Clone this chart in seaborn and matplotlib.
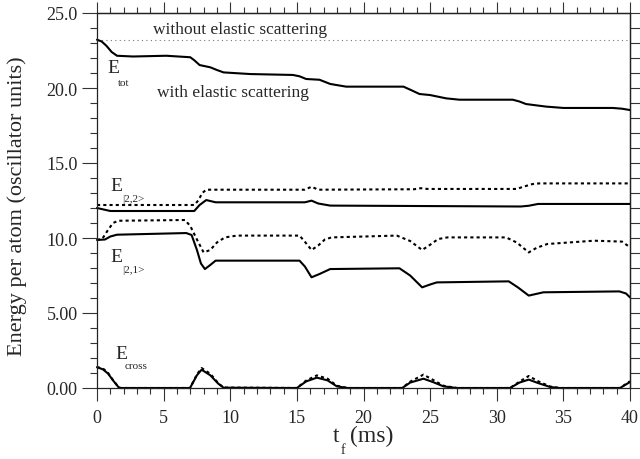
import matplotlib
matplotlib.use("Agg")
import matplotlib.pyplot as plt
import seaborn as sns
import numpy as np
import pandas as pd
from matplotlib.ticker import MultipleLocator, FixedLocator

# ---------------- data ----------------
t_tot = [0, 0.35, 0.7, 1.1, 1.5, 2.7, 5.2, 7.0, 7.3, 7.7, 8.5, 9.0, 9.5, 11.5, 14.7, 15.2, 15.7,
         16.7, 17.5, 18.7, 23.0, 23.6, 24.2, 25.0, 26.2, 27.2, 31.2, 31.7, 32.2, 33.7, 35.0, 38.7, 39.4, 40]
e_tot = [23.22, 23.1, 22.82, 22.4, 22.15, 22.1, 22.15, 22.05, 21.85, 21.53, 21.38, 21.2, 21.04, 20.93, 20.87,
         20.78, 20.6, 20.55, 20.27, 20.09, 20.09, 19.85, 19.6, 19.53, 19.31, 19.22, 19.22, 19.1, 18.93, 18.76,
         18.67, 18.67, 18.62, 18.53]

t_ref = [0, 40]
e_ref = [23.2, 23.2]

t_22d = [0, 7.3, 7.6, 7.9, 8.2, 15.6, 16.1, 16.6, 23.8, 24.3, 24.8, 31.5, 32.0, 32.7, 33.2, 40]
e_22d = [12.2, 12.2, 12.5, 13.0, 13.22, 13.22, 13.42, 13.22, 13.25, 13.32, 13.27, 13.27, 13.42, 13.6, 13.64, 13.64]

t_22s = [0, 0.5, 1.0, 7.3, 7.7, 8.2, 8.9, 15.6, 16.1, 16.6, 17.5, 31.8, 32.4, 33.1, 40]
e_22s = [12.0, 11.9, 11.8, 11.8, 12.2, 12.53, 12.38, 12.38, 12.49, 12.3, 12.16, 12.1, 12.15, 12.27, 12.27]

t_21d = [0, 0.4, 0.8, 1.2, 1.6, 6.6, 7.0, 7.5, 8.0, 8.5, 9.0, 9.6, 10.5, 15.2, 15.6, 16.1, 16.6, 17.1,
         17.6, 22.5, 23.5, 24.4, 25.0, 25.6, 26.3, 30.7, 31.5, 32.4, 33.0, 33.8, 37.3, 39.4, 40]
e_21d = [9.87, 9.95, 10.5, 11.0, 11.15, 11.2, 10.8, 9.9, 9.04, 9.2, 9.7, 10.04, 10.16, 10.16, 9.75, 9.2,
         9.5, 9.9, 10.04, 10.16, 9.8, 9.2, 9.55, 9.93, 10.04, 10.04, 9.7, 9.04, 9.35, 9.6, 9.82, 9.76, 9.38]

t_21s = [0, 0.6, 1.0, 1.5, 6.7, 7.1, 7.5, 7.8, 8.1, 8.5, 8.9, 15.2, 15.6, 16.1, 16.7, 17.5, 22.7, 23.5,
         24.4, 25.0, 25.5, 30.9, 31.6, 32.4, 33.5, 39.2, 39.7, 40]
e_21s = [9.87, 9.9, 10.1, 10.22, 10.33, 10.2, 9.2, 8.3, 7.93, 8.2, 8.49, 8.49, 8.1, 7.38, 7.6, 7.93, 7.98,
         7.5, 6.71, 6.9, 7.04, 7.11, 6.7, 6.16, 6.38, 6.44, 6.3, 6.04]

t_cr = [0, 0.45, 0.83, 1.2, 1.6, 1.75, 6.98, 7.5, 7.85, 8.5, 9.1, 9.5, 15.0, 15.7, 16.5, 17.3, 18.0, 18.8,
        22.9, 23.5, 24.5, 25.2, 26.0, 27.0, 31.0, 31.7, 32.4, 33.1, 34.0, 34.7, 39.25, 40]
e_crs = [1.39, 1.24, 0.96, 0.51, 0.07, 0, 0, 0.85, 1.22, 0.85, 0.29, 0.02, 0, 0.44, 0.69, 0.51, 0.11, 0,
         0, 0.36, 0.62, 0.4, 0.11, 0, 0, 0.36, 0.56, 0.33, 0.07, 0, 0, 0.4]
e_crd = [1.39, 1.3, 1.0, 0.53, 0.08, 0, 0, 0.9, 1.33, 0.95, 0.32, 0.03, 0, 0.5, 0.84, 0.62, 0.15, 0,
         0, 0.42, 0.89, 0.55, 0.15, 0, 0, 0.42, 0.8, 0.45, 0.1, 0, 0, 0.45]

y_ticks = [0, 5, 10, 15, 20, 25]
y_tick_labels = ["0.00", "5.00", "10.0", "15.0", "20.0", "25.0"]
x_ticks = [0, 5, 10, 15, 20, 25, 30, 35, 40]

# ---------------- style ----------------
sns.set_style("ticks")
plt.rcParams['font.family'] = ['Liberation Serif', 'DejaVu Serif']
plt.rcParams['mathtext.fontset'] = 'stix'

fig = plt.figure(figsize=(6.4, 4.6), dpi=100)
ax = fig.add_axes([97/640, 1 - 389/460, (630-97)/640, (389-14)/460])

solid = dict(color='black', lw=1.5, estimator=None, sort=False, ax=ax, legend=False)
dotted = dict(color='black', lw=1.5, estimator=None, sort=False, ax=ax, legend=False)

sns.lineplot(x=t_ref, y=e_ref, color='#777777', lw=0.8, linestyle=(0, (1, 3)),
             estimator=None, sort=False, ax=ax, legend=False)
sns.lineplot(x=t_tot, y=e_tot, **solid)
sns.lineplot(x=t_22d, y=e_22d, linestyle=(0, (1.5, 1.5)), **dotted)
sns.lineplot(x=t_22s, y=e_22s, **solid)
sns.lineplot(x=t_21d, y=e_21d, linestyle=(0, (1.5, 1.5)), **dotted)
sns.lineplot(x=t_21s, y=e_21s, **solid)
sns.lineplot(x=t_cr, y=e_crd, linestyle=(0, (1.5, 1.5)), **dotted)
sns.lineplot(x=t_cr, y=e_crs, **solid)
for ln in ax.lines:
    ln.set_clip_on(False)

ax.set_xlim(0, 40)
ax.set_ylim(0, 25)
ax.set_xticks(x_ticks)
ax.set_xticklabels([str(v) for v in x_ticks])
ax.xaxis.set_minor_locator(MultipleLocator(1))
ax.set_yticks(y_ticks)
ax.set_yticklabels(y_tick_labels)
ax.yaxis.set_minor_locator(MultipleLocator(1))
ax.set_xlabel("")
ax.set_ylabel("")

for s in ax.spines.values():
    s.set_visible(True)
    s.set_linewidth(0.9)
    s.set_color('#222222')

ax.tick_params(axis='y', which='major', direction='out', length=11, width=0.8, labelsize=13, pad=3,
               color='#333333')
ax.tick_params(axis='y', which='minor', direction='out', length=5, width=0.8, color='#333333')
ax.tick_params(axis='x', which='major', direction='out', length=9, width=0.8, labelsize=13, pad=6,
               color='#333333')
ax.tick_params(axis='x', which='minor', direction='out', length=4.5, width=0.8, color='#333333')

secx = ax.secondary_xaxis('top')
secx.set_xticks(x_ticks)
secx.xaxis.set_minor_locator(MultipleLocator(1))
secx.tick_params(axis='x', which='major', direction='out', length=8, width=0.8,
                 labeltop=False, color='#333333')
secx.tick_params(axis='x', which='minor', direction='out', length=4, width=0.8, color='#333333')
secx.set_xticklabels([])
secx.spines['top'].set_linewidth(0.9)

secy = ax.secondary_yaxis('right')
secy.set_yticks(y_ticks)
secy.yaxis.set_minor_locator(MultipleLocator(1))
secy.tick_params(axis='y', which='both', direction='out', length=7, width=0.8, labelright=False,
                 color='#333333')
secy.set_yticklabels([])
secy.spines['right'].set_linewidth(0.9)

# ---------------- annotations ----------------
ax.text(4.2, 23.67, "without elastic scattering", fontsize=12.5, va='baseline', ha='left')
ax.text(4.53, 19.49, "with elastic scattering", fontsize=12.5, va='baseline', ha='left')

ax.text(0.75, 21.37, "E", fontsize=14, va='center', ha='left')
ax.text(1.58, 20.4, "tot", fontsize=8, va='center', ha='left')
ax.text(0.98, 13.53, "E", fontsize=14, va='center', ha='left')
ax.text(1.88, 12.63, "|2,2>", fontsize=8, va='center', ha='left')
ax.text(0.98, 8.77, "E", fontsize=14, va='center', ha='left')
ax.text(1.88, 7.93, "|2,1>", fontsize=8, va='center', ha='left')
ax.text(1.35, 2.33, "E", fontsize=14, va='center', ha='left')
ax.text(2.1, 1.53, "cross", fontsize=8, va='center', ha='left')

# axis labels
fig.text(17/640, 1 - 206/460, "Energy per atom (oscillator units)", rotation=90, fontsize=16,
         ha='center', va='center')
fig.text(333/640, 1 - 442/460, "t", fontsize=17, ha='left', va='baseline')
fig.text(341/640, 1 - 444/460, "f", fontsize=10, ha='left', va='top')
fig.text(350/640, 1 - 442/460, "(ms)", fontsize=17, ha='left', va='baseline')

fig.savefig("out.png", dpi=100)
